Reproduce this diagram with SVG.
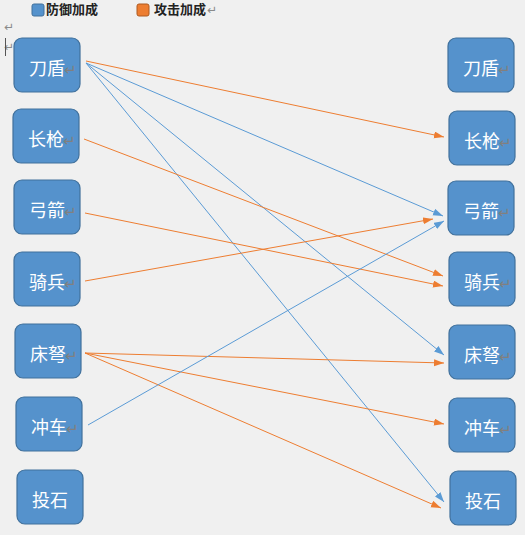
<svg xmlns="http://www.w3.org/2000/svg" width="525" height="535" viewBox="0 0 525 535">
<style>
.bg{fill:#f0f0f0}
.box{fill:#5592cc;stroke:#41719c;stroke-width:1.2}
.lbl{font-family:"Noto Sans CJK SC","Noto Sans",sans-serif;font-size:18px;fill:#ffffff;text-anchor:middle}
.pm{font-family:"DejaVu Sans",sans-serif;font-size:15px;fill:#808080}
.pl{font-family:"DejaVu Sans",sans-serif;font-size:12px;fill:#8a8a8a}
.leg{font-family:"Noto Sans CJK SC","Noto Sans",sans-serif;font-size:13px;font-weight:bold;fill:#222222}
.b{stroke:#5b9bd5;stroke-width:1;fill:none}
.o{stroke:#ed7d31;stroke-width:1;fill:none}
</style>
<defs>
<marker id="ab" markerUnits="userSpaceOnUse" markerWidth="11" markerHeight="8" refX="10" refY="3.5" orient="auto"><path d="M0,0 L10,3.5 L0,7 z" fill="#5b9bd5"/></marker>
<marker id="ao" markerUnits="userSpaceOnUse" markerWidth="11" markerHeight="8" refX="10" refY="3.5" orient="auto"><path d="M0,0 L10,3.5 L0,7 z" fill="#ed7d31"/></marker>
</defs>
<rect class="bg" x="0" y="0" width="525" height="535"/>
<g id="legend">
<rect x="32" y="4" width="12" height="12" rx="2" fill="#5592cc" stroke="#41719c"/>
<text class="leg" x="46" y="14">防御加成</text>
<rect x="137" y="4" width="12" height="12" rx="2" fill="#ed7d31" stroke="#ae5a21"/>
<text class="leg" x="154" y="14">攻击加成</text>
<text class="pl" x="207" y="14">↵</text>
<text class="pl" x="4" y="31">↵</text>
<text class="pl" x="4" y="51">↵</text>
<line x1="5.5" y1="38" x2="5.5" y2="56" stroke="#555" stroke-width="1"/>
</g>
<g id="connectors">
<line class="o" x1="86" y1="61" x2="444" y2="137" marker-end="url(#ao)"/>
<line class="b" x1="86" y1="63" x2="443" y2="216" marker-end="url(#ab)"/>
<line class="b" x1="86" y1="63" x2="444" y2="355" marker-end="url(#ab)"/>
<line class="b" x1="86" y1="63" x2="444" y2="502" marker-end="url(#ab)"/>
<line class="o" x1="84" y1="139" x2="443" y2="276" marker-end="url(#ao)"/>
<line class="o" x1="85" y1="213" x2="443" y2="286" marker-end="url(#ao)"/>
<line class="o" x1="85" y1="281" x2="433" y2="219" marker-end="url(#ao)"/>
<line class="o" x1="85" y1="353" x2="444" y2="363" marker-end="url(#ao)"/>
<line class="o" x1="85" y1="353" x2="444" y2="424" marker-end="url(#ao)"/>
<line class="o" x1="85" y1="353" x2="441" y2="508" marker-end="url(#ao)"/>
<line class="b" x1="88" y1="425" x2="444" y2="221" marker-end="url(#ab)"/>
</g>
<g id="L1"><rect class="box" x="14" y="38" width="66" height="54" rx="8"/><text class="lbl" x="47" y="75">刀盾</text><text class="pm" x="64" y="75">↵</text></g>
<g id="L2"><rect class="box" x="13" y="109" width="66" height="54" rx="8"/><text class="lbl" x="46" y="146">长枪</text><text class="pm" x="63" y="146">↵</text></g>
<g id="L3"><rect class="box" x="14" y="180" width="66" height="54" rx="8"/><text class="lbl" x="47" y="217">弓箭</text><text class="pm" x="64" y="217">↵</text></g>
<g id="L4"><rect class="box" x="14" y="252" width="66" height="54" rx="8"/><text class="lbl" x="47" y="289">骑兵</text><text class="pm" x="64" y="289">↵</text></g>
<g id="L5"><rect class="box" x="15" y="324" width="66" height="54" rx="8"/><text class="lbl" x="48" y="361">床弩</text><text class="pm" x="65" y="361">↵</text></g>
<g id="L6"><rect class="box" x="16" y="397" width="66" height="54" rx="8"/><text class="lbl" x="49" y="434">冲车</text><text class="pm" x="66" y="434">↵</text></g>
<g id="L7"><rect class="box" x="17" y="470" width="66" height="54" rx="8"/><text class="lbl" x="50" y="507">投石</text></g>
<g id="R1"><rect class="box" x="448" y="38" width="66" height="54" rx="8"/><text class="lbl" x="481" y="75">刀盾</text><text class="pm" x="498" y="75">↵</text></g>
<g id="R2"><rect class="box" x="449" y="111" width="66" height="54" rx="8"/><text class="lbl" x="482" y="148">长枪</text><text class="pm" x="499" y="148">↵</text></g>
<g id="R3"><rect class="box" x="448" y="181" width="66" height="54" rx="8"/><text class="lbl" x="481" y="218">弓箭</text><text class="pm" x="498" y="218">↵</text></g>
<g id="R4"><rect class="box" x="449" y="252" width="66" height="54" rx="8"/><text class="lbl" x="482" y="289">骑兵</text><text class="pm" x="499" y="289">↵</text></g>
<g id="R5"><rect class="box" x="449" y="325" width="66" height="54" rx="8"/><text class="lbl" x="482" y="362">床弩</text><text class="pm" x="499" y="362">↵</text></g>
<g id="R6"><rect class="box" x="449" y="398" width="66" height="54" rx="8"/><text class="lbl" x="482" y="435">冲车</text><text class="pm" x="499" y="435">↵</text></g>
<g id="R7"><rect class="box" x="450" y="471" width="66" height="54" rx="8"/><text class="lbl" x="483" y="508">投石</text></g>
</svg>
